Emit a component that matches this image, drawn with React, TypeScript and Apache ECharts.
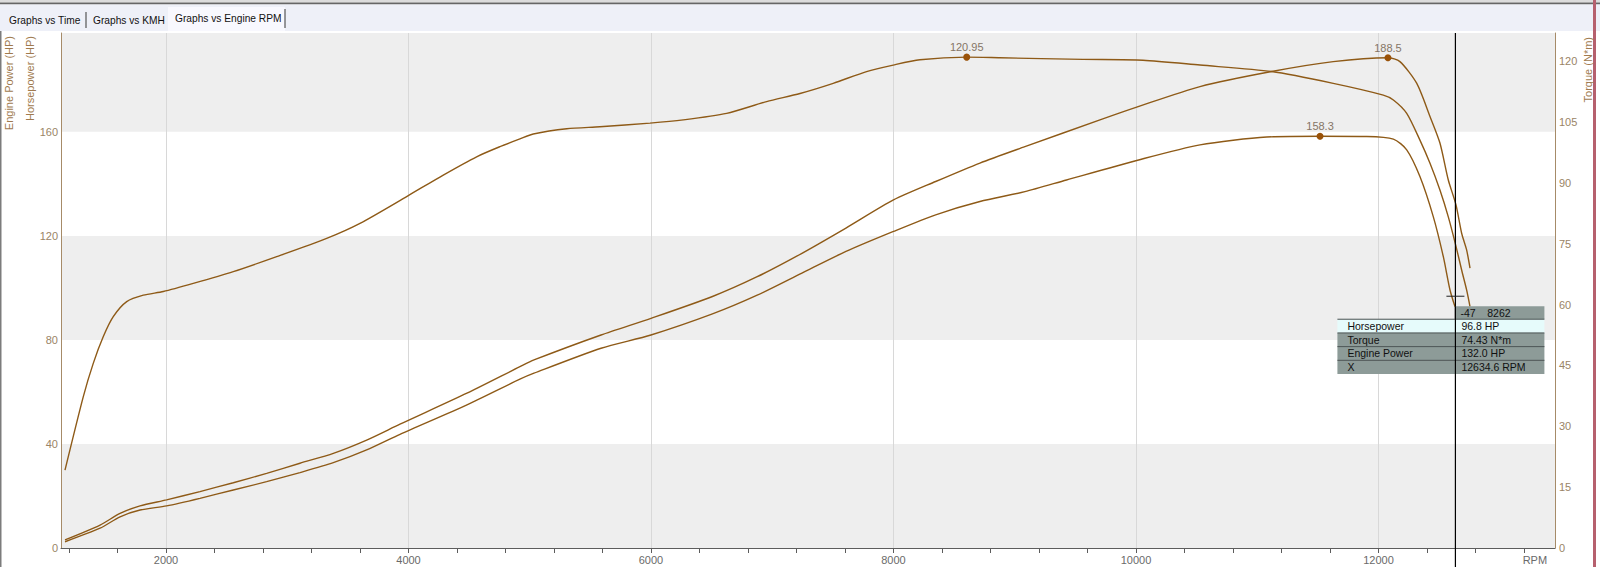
import React, { useEffect, useRef } from 'react';
import * as echarts from 'echarts';

// samples
const torqueRpm = [1167, 1318, 1400, 1483, 1565, 1676, 1813, 1978, 2225, 2555, 2913, 3325, 3600, 3985, 4287, 4562, 4755, 4919, 5029, 5305, 5579, 5992, 6266, 6624, 6954, 7229, 7503, 7778, 7998, 8218, 8604, 8878, 9563, 10058, 10528, 11119, 11627, 12040, 12123, 12233, 12342, 12425, 12507, 12576, 12639, 12686, 12727, 12755];
const torqueNm = [19.2, 37.3, 45.5, 52.1, 57.0, 60.7, 62.3, 63.2, 65.2, 68.1, 71.8, 76.3, 80.0, 86.6, 91.9, 96.4, 98.9, 100.8, 102.0, 103.3, 103.8, 104.7, 105.5, 107.1, 110.0, 112.0, 114.5, 117.4, 119.0, 120.3, 120.95, 120.8, 120.4, 120.2, 119.0, 117.4, 114.5, 111.6, 110.4, 107.1, 100.5, 94.8, 88.2, 81.6, 74.4, 68.5, 63.6, 59.5];

const enginePowerRpm = [1167, 1456, 1621, 1786, 2005, 2280, 2555, 2830, 3105, 3380, 3655, 3930, 4482, 4919, 5035, 5588, 6000, 6507, 6876, 7245, 7608, 8000, 8348, 8713, 9084, 9703, 10006, 10528, 11119, 11627, 12078, 12177, 12315, 12425, 12507, 12576, 12639, 12686, 12727, 12755];
const enginePowerHp = [3.1, 8.8, 13.3, 16.2, 18.5, 21.7, 25.1, 28.7, 32.6, 36.4, 41.5, 47.6, 59.5, 69.7, 72.3, 81.9, 88.3, 96.7, 104.3, 113.3, 123.0, 133.8, 140.9, 148.0, 154.3, 164.6, 169.5, 177.4, 183.2, 187.0, 188.5, 187.0, 178.7, 165.9, 155.7, 141.5, 132.0, 121.0, 114.6, 107.6];

const horsepowerRpm = [1167, 1456, 1621, 1786, 2005, 2280, 2555, 2830, 3105, 3380, 3655, 3930, 4482, 4919, 5035, 5588, 6000, 6507, 6876, 7245, 7608, 8000, 8348, 8713, 9084, 9427, 10006, 10528, 11078, 11518, 11903, 12123, 12233, 12342, 12452, 12535, 12590, 12631];
const horsepowerHp = [2.4, 7.6, 12.0, 14.6, 16.2, 19.1, 22.3, 25.5, 29.0, 32.8, 37.7, 43.7, 55.0, 64.9, 67.2, 76.8, 81.9, 90.0, 97.2, 105.7, 114.0, 121.7, 128.1, 133.2, 137.0, 141.5, 149.0, 155.0, 158.0, 158.3, 158.2, 157.2, 153.1, 142.8, 127.4, 112.0, 99.2, 92.8];

const rpmLabels = [2000, 4000, 6000, 8000, 10000, 12000];
const rpmTicks = [1200, 1600, 2000, 2400, 2800, 3200, 3600, 4000, 4400, 4800, 5200, 5600, 6000, 6400, 6800, 7200, 7600, 8000, 8400, 8800, 9200, 9600, 10000, 10400, 10800, 11200, 11600, 12000, 12400, 12800, 13200];
const rpmUnitAt = [13290];

const tabs = ['Graphs vs Time', 'Graphs vs KMH', 'Graphs vs Engine RPM'];

const cursorRpm = 12634.6;
const cursorHp = 96.8;
const cursorHeader = '-47    8262';
const cursorNames = ['Horsepower', 'Torque', 'Engine Power', 'X'];
const cursorValues = ['96.8 HP', '74.43 N*m', '132.0 HP', '12634.6 RPM'];

const FONT = "'Liberation Sans', Arial, sans-serif";
const LINE = '#8e5a17';
const DOT = '#9a5208';
const TAN = '#a68b68';

const zip = (xs: number[], ys: number[]) => xs.map((x, i) => [x, ys[i]]);

const peak = {
    symbol: 'circle',
    symbolSize: 7,
    itemStyle: { color: DOT },
    label: { show: true, position: 'top', distance: 1, color: '#857565', fontSize: 11, fontFamily: FONT, formatter: (p: any) => String(p.value) },
    data: [{ type: 'max', name: 'max' }]
};

const App: React.FC = () => {
    const chartRef = useRef<HTMLDivElement>(null);

    useEffect(() => {
        if (!chartRef.current) return;
        const chart = echarts.init(chartRef.current, undefined, { renderer: 'svg' });

        const option: any = {
            animation: false,
            textStyle: { fontFamily: FONT },
            grid: { left: 61, right: 45, top: 33, bottom: 19 },
            xAxis: [
                {
                    type: 'value', min: 1134, max: 13456, position: 'bottom',
                    axisLine: { show: true, lineStyle: { color: '#5c5c5c' } },
                    axisTick: { show: false, customValues: rpmLabels },
                    axisLabel: { customValues: rpmLabels, formatter: (v: number) => String(v), color: '#6a6a6a', fontSize: 11, margin: 6 },
                    splitLine: { show: true, lineStyle: { color: '#d8d8d8' } }
                },
                {
                    type: 'value', min: 1134, max: 13456, position: 'bottom',
                    axisLine: { show: false },
                    axisTick: { show: true, customValues: rpmTicks, length: 5, lineStyle: { color: '#5c5c5c' } },
                    axisLabel: { customValues: rpmUnitAt, formatter: () => 'RPM', color: '#6a6a6a', fontSize: 11, margin: 6 },
                    splitLine: { show: false }
                }
            ],
            yAxis: [
                {
                    type: 'value', min: 0, max: 198, interval: 40, position: 'left',
                    axisLine: { show: true, lineStyle: { color: TAN } },
                    axisTick: { show: false },
                    axisLabel: { color: '#9a8466', fontSize: 11, margin: 3, showMaxLabel: false },
                    splitLine: { show: false },
                    splitArea: { show: true, areaStyle: { color: ['#eeeeee', '#ffffff'] } }
                },
                {
                    type: 'value', min: 0, max: 126.9, interval: 15, position: 'right',
                    axisLine: { show: true, lineStyle: { color: TAN } },
                    axisTick: { show: false },
                    axisLabel: { color: '#9a8466', fontSize: 11, margin: 4, showMaxLabel: false },
                    splitLine: { show: false }
                }
            ],
            series: [
                {
                    name: 'Horsepower', type: 'line', xAxisIndex: 0, yAxisIndex: 0,
                    data: zip(horsepowerRpm, horsepowerHp), showSymbol: false, smooth: 0.25,
                    lineStyle: { color: LINE, width: 1.4 }, itemStyle: { color: LINE }, markPoint: peak
                },
                {
                    name: 'Torque', type: 'line', xAxisIndex: 0, yAxisIndex: 1,
                    data: zip(torqueRpm, torqueNm), showSymbol: false, smooth: 0.25,
                    lineStyle: { color: LINE, width: 1.4 }, itemStyle: { color: LINE }, markPoint: peak
                },
                {
                    name: 'Engine Power', type: 'line', xAxisIndex: 0, yAxisIndex: 0,
                    data: zip(enginePowerRpm, enginePowerHp), showSymbol: false, smooth: 0.25,
                    lineStyle: { color: LINE, width: 1.4 }, itemStyle: { color: LINE }, markPoint: peak
                }
            ]
        };
        chart.setOption(option);

        // window chrome, axis titles and the cursor readout
        const cx = chart.convertToPixel({ xAxisIndex: 0 }, cursorRpm) as number;
        const cy = chart.convertToPixel({ yAxisIndex: 0 }, cursorHp) as number;
        const txt = (x: number, y: number, text: string, extra: any = {}) => ({
            type: 'text', x, y, z: 60,
            style: { text, fill: '#111', fontSize: 11, fontFamily: FONT, verticalAlign: 'middle', ...extra }
        });

        const els: any[] = [
            { type: 'rect', shape: { x: 0, y: 0, width: 1600, height: 2.5 }, style: { fill: '#dcdcdc' } },
            { type: 'rect', shape: { x: 0, y: 2.5, width: 1600, height: 2 }, style: { fill: '#666666' } },
            { type: 'rect', shape: { x: 0, y: 4.5, width: 1600, height: 26.5 }, style: { fill: '#eef0f8' } },
            { type: 'rect', shape: { x: 168, y: 7, width: 117, height: 24 }, style: { fill: '#f8f8fe' } },
            { type: 'line', shape: { x1: 86, y1: 12, x2: 86, y2: 28 }, style: { stroke: '#555', lineWidth: 1.2 } },
            { type: 'line', shape: { x1: 285, y1: 9, x2: 285, y2: 28 }, style: { stroke: '#555', lineWidth: 1.2 } },
            txt(9, 20, tabs[0], { fontSize: 10.2 }),
            txt(93, 20, tabs[1], { fontSize: 10.2 }),
            txt(175, 18, tabs[2], { fontSize: 10.2 }),
            { type: 'rect', shape: { x: 0, y: 31, width: 1.5, height: 536 }, style: { fill: '#7c7c7c' } },
            { type: 'rect', shape: { x: 1593, y: 0, width: 3, height: 567 }, style: { fill: '#b6606e' } },
            { ...txt(9, 36, 'Engine Power (HP)', { fill: '#a07a4e', align: 'right' }), rotation: Math.PI / 2 },
            { ...txt(30, 36, 'Horsepower (HP)', { fill: '#a07a4e', align: 'right' }), rotation: Math.PI / 2 },
            { ...txt(1588, 37, 'Torque (N*m)', { fill: '#a07a4e', align: 'right' }), rotation: Math.PI / 2 },
            { type: 'line', z: 55, shape: { x1: cx, y1: 33, x2: cx, y2: 567 }, style: { stroke: '#000', lineWidth: 1.2 } },
            { type: 'line', z: 55, shape: { x1: cx - 9, y1: cy, x2: cx + 9, y2: cy }, style: { stroke: '#222', lineWidth: 1 } }
        ];

        const top = cy + 10;
        const rowH = 13.7;
        const left = cx - 118;
        const right = cx + 89;
        els.push({ type: 'rect', z: 56, shape: { x: cx, y: top, width: right - cx, height: 13 }, style: { fill: '#8d9b98' } });
        els.push(txt(cx + 5, top + 7, cursorHeader, { fontSize: 10.5 }));
        cursorNames.forEach((name, i) => {
            const y = top + 13 + i * rowH;
            els.push({ type: 'rect', z: 56, shape: { x: left, y, width: right - left, height: rowH }, style: { fill: i === 0 ? '#e6fbfb' : '#8d9b98' } });
            els.push({ type: 'line', z: 57, shape: { x1: left, y1: y, x2: right, y2: y }, style: { stroke: '#4a5252', lineWidth: 1 } });
            els.push(txt(left + 10, y + rowH / 2, name, { fontSize: 10.5 }));
            els.push(txt(cx + 6, y + rowH / 2, cursorValues[i], { fontSize: 10.5 }));
        });
        els.push({ type: 'line', z: 57, shape: { x1: cx, y1: top, x2: cx, y2: top + 13 + 4 * rowH }, style: { stroke: '#000', lineWidth: 1.2 } });

        chart.setOption({ graphic: els });

        const handleResize = () => chart.resize();
        window.addEventListener('resize', handleResize);
        return () => {
            window.removeEventListener('resize', handleResize);
            chart.dispose();
        };
    }, []);

    return (
        <div
            ref={chartRef}
            style={{ position: 'absolute', left: 0, top: 0, width: '1600px', height: '567px', background: '#fff' }}
        />
    );
};

export default App;
